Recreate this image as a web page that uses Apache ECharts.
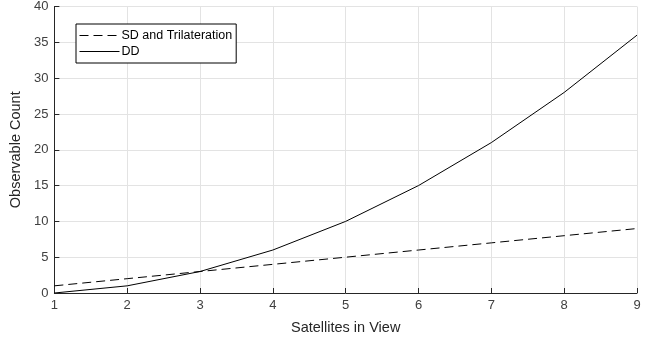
<!DOCTYPE html>
<html>
<head>
<meta charset="utf-8">
<script src="https://cdn.jsdelivr.net/npm/echarts@6/dist/echarts.min.js"></script>
<style>
  html, body { margin: 0; padding: 0; background: #fff; }
  #chart { width: 657px; height: 343px; }
</style>
</head>
<body>
<div id="chart"></div>
<script>
// Number of satellites in view
const satellites = [1, 2, 3, 4, 5, 6, 7, 8, 9];
// Observable counts per processing method
const sdTrilateration = [1, 2, 3, 4, 5, 6, 7, 8, 9];
const doubleDifference = [0, 1, 3, 6, 10, 15, 21, 28, 36];

const seriesNames = ['SD and Trilateration', 'DD'];
const xAxisTitle = 'Satellites in View';
const yAxisTitle = 'Observable Count';

const font = 'Liberation Sans, Arial, sans-serif';
const chart = echarts.init(document.getElementById('chart'), null, { renderer: 'canvas' });

chart.setOption({
  animation: false,
  backgroundColor: '#ffffff',
  grid: { left: 53, right: 20, top: 5, bottom: 50, containLabel: false },
  legend: {
    orient: 'vertical',
    left: 76,
    top: 24,
    padding: [5, 4, 5, 3],
    itemGap: 3,
    itemWidth: 40,
    itemHeight: 14,
    borderColor: '#000',
    borderWidth: 1,
    borderRadius: 0,
    backgroundColor: '#fff',
    itemStyle: { opacity: 0 },
    lineStyle: { width: 1 },
    textStyle: { fontFamily: font, fontSize: 12.5, color: '#000', padding: [0, 0, 0, -3] },
    data: seriesNames
  },
  xAxis: {
    type: 'value',
    min: 1, max: 9, interval: 1,
    name: xAxisTitle,
    nameLocation: 'middle',
    nameGap: 27,
    nameTextStyle: { fontFamily: font, fontSize: 14.5, color: '#262626' },
    axisLine: { show: true, lineStyle: { color: '#262626', width: 1 } },
    axisTick: { show: true, inside: true, length: 5, lineStyle: { color: '#262626' } },
    axisLabel: { fontFamily: font, fontSize: 13, color: '#404040', margin: 6 },
    splitLine: { show: true, lineStyle: { color: '#e3e3e3', width: 1 } }
  },
  yAxis: {
    type: 'value',
    min: 0, max: 40, interval: 5,
    name: yAxisTitle,
    nameLocation: 'middle',
    nameGap: 24,
    nameTextStyle: { fontFamily: font, fontSize: 14.5, color: '#262626' },
    axisLine: { show: true, lineStyle: { color: '#262626', width: 1 } },
    axisTick: { show: true, inside: true, length: 5, lineStyle: { color: '#262626' } },
    axisLabel: { fontFamily: font, fontSize: 13, color: '#404040', margin: 6 },
    splitLine: { show: true, lineStyle: { color: '#e3e3e3', width: 1 } }
  },
  series: [
    {
      name: seriesNames[0],
      type: 'line',
      symbol: 'none',
      data: satellites.map((s, i) => [s, sdTrilateration[i]]),
      lineStyle: { color: '#000', width: 1, type: [9, 5] },
      itemStyle: { color: '#000' }
    },
    {
      name: seriesNames[1],
      type: 'line',
      symbol: 'none',
      data: satellites.map((s, i) => [s, doubleDifference[i]]),
      lineStyle: { color: '#000', width: 1, type: 'solid' },
      itemStyle: { color: '#000' }
    }
  ]
});
</script>
</body>
</html>
